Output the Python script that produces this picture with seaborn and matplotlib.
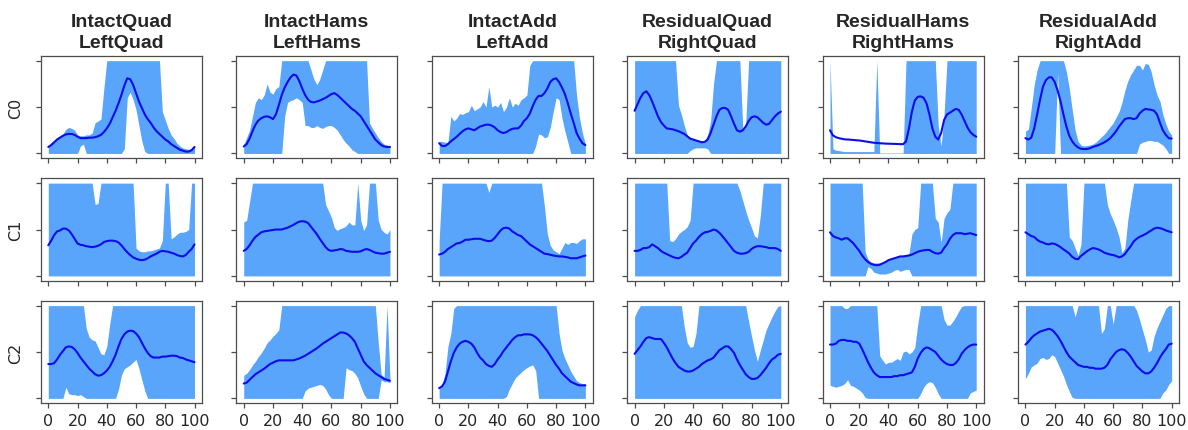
import numpy as np
import matplotlib
matplotlib.use("Agg")
import matplotlib.pyplot as plt
import seaborn as sns

# Normalised activation over the gait cycle (0-100 %), sampled every 2 %.
frames = np.arange(0, 101, 2)

titles = ["IntactQuad\nLeftQuad", "IntactHams\nLeftHams", "IntactAdd\nLeftAdd",
          "ResidualQuad\nRightQuad", "ResidualHams\nRightHams", "ResidualAdd\nRightAdd"]
components = ["C0", "C1", "C2"]
xtick_values = [0, 20, 40, 60, 80, 100]
ytick_values = [0.0, 0.5, 1.0]

# ---------------- C0 ----------------
iq_c0_mid = [0.07, 0.09, 0.12, 0.15, 0.17, 0.19, 0.205, 0.21, 0.21, 0.20,
             0.18, 0.165, 0.165, 0.165, 0.17, 0.17, 0.175, 0.185, 0.20, 0.23,
             0.27, 0.32, 0.39, 0.46, 0.54, 0.63, 0.73, 0.81, 0.80, 0.74,
             0.65, 0.56, 0.49, 0.42, 0.37, 0.33, 0.28, 0.24, 0.21, 0.18,
             0.15, 0.13, 0.10, 0.08, 0.06, 0.04, 0.03, 0.02, 0.02, 0.035, 0.07]
iq_c0_hi = [0.08, 0.12, 0.14, 0.17, 0.19, 0.21, 0.26, 0.28, 0.27, 0.25,
            0.20, 0.19, 0.19, 0.20, 0.20, 0.22, 0.33, 0.35, 0.37, 0.70,
            1, 1, 1, 1, 1, 1, 1, 1, 1, 1,
            1, 1, 1, 1, 1, 1, 1, 1, 1, 0.45,
            0.36, 0.27, 0.20, 0.16, 0.11, 0.08, 0.06, 0.05, 0.045, 0.05, 0.08]
iq_c0_lo = [0, 0, 0, 0, 0, 0, 0, 0, 0, 0,
            0, 0.08, 0.10, 0, 0, 0, 0, 0, 0, 0,
            0, 0, 0, 0, 0, 0, 0.05, 0.60, 0.66, 0.58,
            0.47, 0.30, 0.13, 0.02, 0, 0, 0, 0, 0, 0,
            0, 0, 0, 0, 0, 0, 0, 0, 0, 0, 0]

ih_c0_mid = [0.075, 0.10, 0.16, 0.24, 0.31, 0.355, 0.38, 0.395, 0.40, 0.39,
             0.37, 0.42, 0.52, 0.63, 0.71, 0.77, 0.82, 0.85, 0.84, 0.78,
             0.70, 0.63, 0.58, 0.555, 0.55, 0.56, 0.57, 0.585, 0.60, 0.62,
             0.64, 0.65, 0.63, 0.60, 0.57, 0.54, 0.51, 0.48, 0.46, 0.43,
             0.40, 0.35, 0.30, 0.25, 0.20, 0.15, 0.12, 0.09, 0.075, 0.07, 0.07]
ih_c0_hi = [0.10, 0.17, 0.25, 0.40, 0.55, 0.60, 0.58, 0.63, 0.75, 0.66,
            0.64, 0.70, 0.72, 1, 1, 1, 1, 1, 1, 1,
            1, 1, 1, 0.90, 0.80, 0.74, 0.80, 0.90, 1, 1,
            1, 1, 1, 1, 1, 1, 1, 1, 1, 1,
            1, 1, 1, 0.33, 0.27, 0.22, 0.17, 0.13, 0.10, 0.09, 0.08]
ih_c0_lo = [0, 0, 0, 0, 0, 0, 0, 0, 0, 0,
            0, 0, 0, 0, 0.40, 0.55, 0.57, 0.58, 0.60, 0.58,
            0.55, 0.30, 0.30, 0.28, 0.28, 0.30, 0.28, 0.27, 0.29, 0.30,
            0.30, 0.28, 0.25, 0.20, 0.15, 0.11, 0.08, 0.04, 0.02, 0,
            0, 0, 0, 0, 0, 0, 0, 0, 0, 0, 0]

ia_c0_mid = [0.11, 0.08, 0.08, 0.10, 0.13, 0.155, 0.18, 0.21, 0.24, 0.26,
             0.27, 0.26, 0.25, 0.27, 0.29, 0.30, 0.31, 0.31, 0.30, 0.28,
             0.25, 0.23, 0.22, 0.23, 0.25, 0.265, 0.27, 0.27, 0.30, 0.35,
             0.38, 0.43, 0.51, 0.58, 0.62, 0.62, 0.65, 0.70, 0.77, 0.80,
             0.81, 0.77, 0.71, 0.64, 0.54, 0.43, 0.33, 0.22, 0.16, 0.11, 0.09]
ia_c0_hi = [0.13, 0.13, 0.12, 0.12, 0.40, 0.35, 0.38, 0.43, 0.42, 0.44,
            0.45, 0.52, 0.46, 0.48, 0.50, 0.56, 0.50, 0.72, 0.50, 0.52,
            0.50, 0.55, 0.45, 0.50, 0.60, 0.50, 0.54, 0.52, 0.58, 0.60,
            0.63, 0.95, 1, 1, 1, 1, 1, 1, 1, 1,
            1, 1, 1, 1, 1, 1, 1, 0.62, 0.38, 0.22, 0.10]
ia_c0_lo = [0, 0, 0, 0, 0, 0, 0, 0, 0, 0,
            0, 0, 0, 0, 0, 0, 0, 0, 0, 0,
            0, 0, 0, 0, 0, 0, 0, 0, 0, 0,
            0, 0, 0, 0.08, 0.21, 0.20, 0.17, 0.18, 0.28, 0.45,
            0.60, 0.58, 0.38, 0.24, 0.12, 0, 0, 0, 0, 0, 0]

rq_c0_mid = [0.46, 0.53, 0.60, 0.65, 0.67, 0.63, 0.56, 0.48, 0.40, 0.34,
             0.30, 0.27, 0.265, 0.26, 0.25, 0.24, 0.225, 0.21, 0.185, 0.16,
             0.15, 0.14, 0.13, 0.12, 0.125, 0.15, 0.22, 0.31, 0.40, 0.47,
             0.49, 0.49, 0.47, 0.40, 0.32, 0.25, 0.235, 0.25, 0.29, 0.35,
             0.39, 0.40, 0.39, 0.36, 0.33, 0.31, 0.32, 0.36, 0.40, 0.43, 0.45]
rq_c0_hi = [1, 1, 1, 1, 1, 1, 1, 1, 1, 1,
            1, 1, 1, 1, 1, 0.52, 0.42, 0.30, 0.20, 0.17,
            0.16, 0.15, 0.14, 0.13, 0.14, 0.20, 0.35, 0.75, 1, 1,
            1, 1, 1, 1, 1, 1, 1, 0.27, 0.32, 1,
            1, 1, 1, 1, 1, 1, 1, 1, 1, 1, 1]
rq_c0_lo = [0, 0, 0, 0, 0, 0, 0, 0, 0, 0,
            0, 0, 0, 0, 0, 0, 0, 0, 0, 0.03,
            0.05, 0.06, 0.06, 0.06, 0.06, 0.05, 0, 0, 0, 0,
            0, 0, 0, 0, 0, 0, 0, 0, 0, 0,
            0, 0, 0, 0, 0, 0, 0, 0, 0, 0, 0]

rh_c0_mid = [0.25, 0.195, 0.175, 0.165, 0.158, 0.152, 0.15, 0.148, 0.145, 0.142,
             0.14, 0.135, 0.13, 0.125, 0.12, 0.115, 0.113, 0.11, 0.108, 0.106,
             0.105, 0.104, 0.103, 0.102, 0.10, 0.10, 0.13, 0.27, 0.45, 0.57,
             0.61, 0.615, 0.60, 0.54, 0.42, 0.27, 0.18, 0.15, 0.22, 0.36,
             0.42, 0.44, 0.46, 0.48, 0.47, 0.42, 0.35, 0.28, 0.23, 0.20, 0.18]
rh_c0_hi = [1, 0.05, 0.035, 0.03, 0.025, 0.02, 0.02, 0.02, 0.02, 0.02,
            0.02, 0.02, 0.02, 0.02, 0.02, 0.02, 1, 0.005, 0.005, 0.005,
            0.005, 0.005, 0.005, 0.005, 0.005, 0.005, 1, 1, 1, 1,
            1, 1, 1, 1, 1, 1, 1, 0.30, 0.08, 0.42,
            1, 1, 1, 1, 1, 1, 1, 1, 1, 1, 1]
rh_c0_lo = [0] * 51

ra_c0_mid = [0.165, 0.15, 0.17, 0.27, 0.42, 0.58, 0.72, 0.79, 0.82, 0.82,
             0.77, 0.68, 0.56, 0.42, 0.29, 0.19, 0.13, 0.09, 0.065, 0.05,
             0.047, 0.048, 0.055, 0.07, 0.08, 0.09, 0.105, 0.12, 0.14, 0.165,
             0.20, 0.24, 0.29, 0.33, 0.37, 0.38, 0.38, 0.37, 0.38, 0.43,
             0.46, 0.48, 0.475, 0.47, 0.46, 0.42, 0.33, 0.25, 0.20, 0.165, 0.16]
ra_c0_hi = [0.24, 0.26, 0.49, 0.74, 0.90, 1, 1, 1, 1, 1,
            1, 1, 1, 1, 0.88, 0.70, 0.47, 0.25, 0.13, 0.09,
            0.08, 0.085, 0.09, 0.10, 0.12, 0.15, 0.18, 0.21, 0.25, 0.29,
            0.33, 0.39, 0.45, 0.55, 0.68, 0.78, 0.85, 0.90, 0.95, 0.95,
            0.90, 0.97, 0.96, 0.88, 0.74, 0.63, 0.56, 0.42, 0.32, 0.24, 0.20]
ra_c0_lo = [0, 0, 0, 0, 0, 0, 0, 0, 0, 0,
            0, 0.86, 0, 0, 0, 0, 0, 0, 0, 0,
            0, 0, 0, 0, 0, 0, 0, 0, 0, 0,
            0, 0, 0, 0, 0, 0, 0, 0, 0, 0.10,
            0.12, 0.13, 0.14, 0.14, 0.13, 0.13, 0.11, 0.09, 0.05, 0, 0]

# ---------------- C1 ----------------
iq_c1_mid = [0.33, 0.38, 0.44, 0.48, 0.49, 0.51, 0.51, 0.49, 0.45, 0.40,
             0.35, 0.335, 0.33, 0.32, 0.315, 0.31, 0.315, 0.325, 0.34, 0.365,
             0.375, 0.38, 0.38, 0.375, 0.36, 0.33, 0.29, 0.255, 0.225, 0.20,
             0.185, 0.175, 0.17, 0.175, 0.19, 0.21, 0.225, 0.24, 0.26, 0.27,
             0.265, 0.26, 0.25, 0.24, 0.225, 0.215, 0.21, 0.225, 0.26, 0.29, 0.34]
iq_c1_hi = [1, 1, 1, 1, 1, 1, 1, 1, 1, 1,
            1, 1, 1, 1, 1, 1, 0.77, 0.78, 1, 1,
            1, 1, 1, 1, 1, 1, 1, 1, 1, 1,
            0.30, 0.27, 0.26, 0.26, 0.27, 0.27, 0.28, 0.29, 0.30, 0.38,
            1, 1, 0.40, 0.42, 0.45, 0.47, 0.47, 0.48, 0.50, 1, 1]
iq_c1_lo = [0] * 51

ih_c1_mid = [0.27, 0.29, 0.33, 0.38, 0.42, 0.445, 0.47, 0.48, 0.485, 0.49,
             0.495, 0.50, 0.50, 0.50, 0.51, 0.52, 0.535, 0.55, 0.57, 0.585,
             0.59, 0.585, 0.57, 0.53, 0.49, 0.45, 0.40, 0.355, 0.31, 0.28,
             0.27, 0.275, 0.28, 0.29, 0.285, 0.27, 0.265, 0.26, 0.26, 0.26,
             0.265, 0.28, 0.29, 0.28, 0.265, 0.25, 0.245, 0.24, 0.24, 0.25, 0.26]
ih_c1_hi = [0.58, 0.60, 0.80, 1, 1, 1, 1, 1, 1, 1,
            1, 1, 1, 1, 1, 1, 1, 1, 1, 1,
            1, 1, 1, 1, 1, 1, 1, 1, 0.77, 0.70,
            0.63, 0.52, 0.49, 0.51, 0.52, 0.54, 0.58, 0.55, 0.55, 1,
            0.60, 0.49, 0.55, 1, 1, 1, 0.60, 0.50, 0.47, 0.45, 0.50]
ih_c1_lo = [0] * 51

ia_c1_mid = [0.23, 0.24, 0.26, 0.29, 0.31, 0.33, 0.35, 0.355, 0.37, 0.39,
             0.39, 0.395, 0.40, 0.40, 0.40, 0.39, 0.38, 0.375, 0.38, 0.41,
             0.45, 0.49, 0.515, 0.52, 0.51, 0.48, 0.46, 0.44, 0.43, 0.40,
             0.37, 0.34, 0.32, 0.30, 0.28, 0.26, 0.24, 0.235, 0.228, 0.22,
             0.215, 0.21, 0.21, 0.205, 0.20, 0.19, 0.19, 0.19, 0.20, 0.21, 0.22]
ia_c1_hi = [0.38, 1, 1, 1, 1, 1, 1, 1, 1, 1,
            1, 1, 1, 1, 1, 1, 1, 0.90, 1, 1,
            1, 1, 1, 1, 1, 1, 1, 1, 1, 1,
            1, 1, 1, 1, 1, 1, 0.75, 0.45, 0.33, 0.28,
            0.26, 0.24, 0.30, 0.36, 0.34, 0.36, 0.36, 0.35, 0.38, 0.40, 0.40]
ia_c1_lo = [0] * 51

rq_c1_mid = [0.27, 0.27, 0.28, 0.30, 0.30, 0.31, 0.34, 0.32, 0.30, 0.27,
             0.25, 0.235, 0.22, 0.205, 0.195, 0.19, 0.205, 0.23, 0.25, 0.30,
             0.35, 0.38, 0.42, 0.45, 0.47, 0.475, 0.485, 0.50, 0.49, 0.465,
             0.43, 0.39, 0.35, 0.31, 0.27, 0.25, 0.24, 0.24, 0.245, 0.26,
             0.29, 0.31, 0.32, 0.32, 0.315, 0.31, 0.30, 0.30, 0.30, 0.29, 0.27]
rq_c1_hi = [1, 1, 1, 1, 1, 1, 1, 1, 1, 1,
            1, 1, 0.38, 0.37, 0.40, 0.45, 0.48, 0.50, 0.53, 0.60,
            1, 1, 1, 1, 1, 1, 1, 1, 1, 1,
            1, 1, 1, 1, 1, 1, 0.92, 0.81, 0.70, 0.60,
            0.52, 0.43, 0.41, 0.65, 1, 1, 1, 1, 1, 1, 1]
rq_c1_lo = [0] * 51

rh_c1_mid = [0.47, 0.43, 0.415, 0.405, 0.39, 0.405, 0.405, 0.38, 0.35, 0.31,
             0.27, 0.22, 0.18, 0.15, 0.13, 0.12, 0.115, 0.12, 0.135, 0.15,
             0.17, 0.18, 0.19, 0.20, 0.21, 0.21, 0.215, 0.22, 0.23, 0.245,
             0.26, 0.27, 0.275, 0.28, 0.28, 0.26, 0.245, 0.24, 0.25, 0.30,
             0.34, 0.40, 0.44, 0.46, 0.46, 0.46, 0.45, 0.455, 0.46, 0.45, 0.44]
rh_c1_hi = [1, 1, 1, 1, 1, 1, 1, 1, 1, 1,
            1, 1, 0.26, 0.18, 0.15, 0.14, 0.14, 0.14, 0.15, 0.16,
            0.18, 0.19, 0.20, 0.21, 0.22, 0.22, 0.23, 0.24, 0.45, 0.50,
            0.52, 1, 1, 1, 1, 1, 0.62, 0.58, 0.36, 0.62,
            0.68, 0.72, 1, 1, 1, 1, 1, 1, 1, 1, 1]
rh_c1_lo = [0, 0, 0, 0, 0, 0, 0, 0, 0, 0,
            0, 0, 0, 0.10, 0.08, 0.04, 0.03, 0.02, 0.02, 0.02,
            0.03, 0.04, 0.06, 0.07, 0.05, 0.06, 0.07, 0.07, 0, 0,
            0, 0, 0, 0, 0, 0, 0, 0, 0, 0,
            0, 0, 0, 0, 0, 0, 0, 0, 0, 0, 0]

ra_c1_mid = [0.47, 0.45, 0.43, 0.42, 0.39, 0.37, 0.36, 0.345, 0.34, 0.35,
             0.345, 0.33, 0.31, 0.285, 0.265, 0.24, 0.205, 0.185, 0.18, 0.215,
             0.24, 0.265, 0.285, 0.30, 0.295, 0.285, 0.27, 0.25, 0.24, 0.23,
             0.225, 0.215, 0.20, 0.21, 0.235, 0.28, 0.32, 0.37, 0.40, 0.42,
             0.435, 0.45, 0.47, 0.49, 0.51, 0.52, 0.515, 0.505, 0.49, 0.48, 0.47]
ra_c1_hi = [1, 1, 1, 1, 1, 1, 1, 1, 1, 1,
            1, 1, 1, 1, 1, 0.42, 0.38, 0.30, 0.22, 0.34,
            1, 1, 1, 1, 1, 1, 1, 1, 0.77, 0.67,
            0.60, 0.52, 0.42, 0.25, 0.30, 0.60, 0.81, 1, 1, 1,
            1, 1, 1, 1, 1, 1, 1, 1, 1, 1, 1]
ra_c1_lo = [0] * 51

# ---------------- C2 ----------------
iq_c2_mid = [0.37, 0.37, 0.38, 0.42, 0.47, 0.51, 0.55, 0.56, 0.555, 0.53,
             0.49, 0.44, 0.40, 0.36, 0.32, 0.29, 0.26, 0.245, 0.25, 0.27,
             0.30, 0.34, 0.40, 0.47, 0.56, 0.64, 0.69, 0.72, 0.73, 0.725,
             0.70, 0.66, 0.60, 0.54, 0.49, 0.455, 0.44, 0.44, 0.44, 0.45,
             0.45, 0.455, 0.46, 0.46, 0.455, 0.44, 0.435, 0.42, 0.41, 0.40, 0.39]
iq_c2_hi = [1, 1, 1, 1, 1, 1, 1, 1, 1, 1,
            1, 1, 1, 0.75, 0.66, 0.63, 0.62, 0.55, 0.48, 0.47,
            0.56, 0.80, 1, 1, 1, 1, 1, 1, 1, 1,
            1, 1, 1, 1, 1, 1, 1, 1, 1, 1,
            1, 1, 1, 1, 1, 1, 1, 1, 1, 1, 1]
iq_c2_lo = [0, 0, 0, 0, 0, 0, 0.12, 0.05, 0.04, 0.04,
            0.03, 0.04, 0.02, 0, 0, 0, 0, 0, 0, 0,
            0, 0, 0, 0, 0.10, 0.25, 0.32, 0.34, 0.36, 0.39,
            0.42, 0.32, 0.20, 0.08, 0, 0, 0, 0, 0, 0,
            0, 0, 0, 0, 0, 0, 0, 0, 0, 0, 0]

ih_c2_mid = [0.16, 0.17, 0.20, 0.23, 0.26, 0.28, 0.30, 0.32, 0.345, 0.37,
             0.385, 0.40, 0.41, 0.41, 0.41, 0.41, 0.41, 0.41, 0.42, 0.43,
             0.445, 0.46, 0.48, 0.50, 0.52, 0.54, 0.565, 0.59, 0.61, 0.63,
             0.65, 0.67, 0.69, 0.71, 0.71, 0.70, 0.68, 0.65, 0.61, 0.54,
             0.47, 0.40, 0.36, 0.33, 0.30, 0.27, 0.25, 0.23, 0.21, 0.20, 0.19]
ih_c2_hi = [0.25, 0.27, 0.31, 0.36, 0.40, 0.45, 0.49, 0.54, 0.60, 0.63,
            0.67, 0.70, 0.74, 1, 1, 1, 1, 1, 1, 1,
            1, 1, 1, 1, 1, 1, 1, 1, 1, 1,
            1, 1, 1, 1, 1, 1, 1, 1, 1, 1,
            1, 1, 1, 1, 1, 1, 0.60, 0.26, 0.23, 1, 0.22]
ih_c2_lo = [0, 0, 0, 0, 0, 0, 0, 0, 0, 0,
            0, 0, 0, 0, 0, 0, 0, 0, 0, 0,
            0, 0.08, 0.11, 0.12, 0.13, 0.14, 0.15, 0.14, 0.10, 0.04,
            0, 0, 0, 0, 0, 0.33, 0.31, 0.30, 0.27, 0.22,
            0.13, 0.05, 0, 0, 0, 0, 0, 0.20, 0.18, 0.18, 0.17]

ia_c2_mid = [0.11, 0.13, 0.18, 0.29, 0.40, 0.49, 0.55, 0.59, 0.61, 0.62,
             0.61, 0.59, 0.55, 0.49, 0.44, 0.41, 0.37, 0.35, 0.34, 0.37,
             0.42, 0.46, 0.51, 0.55, 0.59, 0.63, 0.66, 0.68, 0.68, 0.69,
             0.69, 0.69, 0.68, 0.66, 0.63, 0.59, 0.55, 0.51, 0.46, 0.41,
             0.36, 0.32, 0.27, 0.24, 0.21, 0.18, 0.165, 0.15, 0.14, 0.14, 0.14]
ia_c2_hi = [0.12, 0.15, 0.27, 0.56, 0.70, 0.97, 1, 1, 1, 1,
            1, 1, 1, 1, 1, 1, 1, 1, 1, 1,
            1, 1, 1, 1, 1, 1, 1, 1, 1, 1,
            1, 1, 1, 1, 1, 1, 1, 1, 1, 1,
            1, 0.70, 0.52, 0.43, 0.36, 0.29, 0.24, 0.19, 0.17, 0.16, 0.16]
ia_c2_lo = [0, 0, 0, 0, 0, 0, 0, 0, 0, 0,
            0, 0, 0, 0, 0, 0, 0, 0, 0, 0,
            0, 0, 0, 0.02, 0.10, 0.16, 0.22, 0.25, 0.28, 0.31,
            0.33, 0.35, 0.36, 0.30, 0, 0, 0, 0, 0, 0,
            0, 0, 0, 0, 0, 0, 0, 0, 0, 0, 0]

rq_c2_mid = [0.48, 0.52, 0.56, 0.61, 0.65, 0.66, 0.65, 0.64, 0.64, 0.64,
             0.60, 0.55, 0.49, 0.43, 0.38, 0.34, 0.32, 0.30, 0.29, 0.29,
             0.30, 0.32, 0.34, 0.37, 0.39, 0.41, 0.42, 0.44, 0.48, 0.52,
             0.54, 0.56, 0.56, 0.53, 0.49, 0.42, 0.36, 0.31, 0.26, 0.23,
             0.21, 0.21, 0.22, 0.25, 0.29, 0.33, 0.38, 0.42, 0.44, 0.47, 0.48]
rq_c2_hi = [0.88, 0.95, 1, 1, 1, 1, 1, 1, 1, 1,
            1, 1, 1, 1, 1, 1, 1, 0.77, 0.60, 0.55,
            0.56, 0.70, 1, 1, 1, 1, 1, 1, 1, 1,
            1, 1, 1, 1, 1, 1, 1, 1, 1, 0.83,
            0.67, 0.52, 0.40, 0.52, 0.63, 0.74, 0.81, 0.88, 0.94, 0.99, 1]
rq_c2_lo = [0] * 51

rh_c2_mid = [0.58, 0.58, 0.59, 0.62, 0.63, 0.63, 0.62, 0.62, 0.61, 0.61,
             0.59, 0.53, 0.46, 0.39, 0.33, 0.28, 0.25, 0.23, 0.23, 0.23,
             0.23, 0.23, 0.24, 0.24, 0.25, 0.25, 0.26, 0.27, 0.28, 0.34,
             0.43, 0.49, 0.53, 0.55, 0.54, 0.52, 0.50, 0.46, 0.42, 0.39,
             0.37, 0.36, 0.36, 0.38, 0.42, 0.48, 0.52, 0.55, 0.57, 0.58, 0.58]
rh_c2_hi = [1, 1, 1, 1, 1, 0.97, 0.97, 1, 1, 1,
            1, 1, 1, 1, 1, 1, 1, 0.46, 0.41, 0.37,
            0.39, 0.39, 0.41, 0.43, 0.41, 0.50, 0.51, 0.48, 0.50, 0.55,
            0.80, 1, 1, 1, 1, 1, 1, 1, 1, 0.85,
            0.79, 0.79, 0.83, 0.88, 0.94, 0.99, 1, 1, 1, 1, 1]
rh_c2_lo = [0.14, 0.13, 0.12, 0.13, 0.14, 0.16, 0.20, 0.14, 0.13, 0.11,
            0.09, 0.06, 0.01, 0, 0, 0, 0, 0, 0, 0,
            0, 0, 0, 0, 0, 0, 0, 0, 0, 0,
            0, 0.05, 0.12, 0.16, 0.18, 0.17, 0.12, 0.05, 0, 0,
            0, 0, 0, 0, 0, 0, 0, 0, 0.06, 0.075, 0.09]

ra_c2_mid = [0.58, 0.61, 0.65, 0.68, 0.70, 0.72, 0.73, 0.74, 0.75, 0.74,
             0.71, 0.67, 0.62, 0.56, 0.50, 0.45, 0.42, 0.39, 0.36, 0.35,
             0.34, 0.34, 0.33, 0.33, 0.32, 0.32, 0.32, 0.33, 0.36, 0.42,
             0.46, 0.50, 0.52, 0.53, 0.52, 0.49, 0.45, 0.40, 0.35, 0.32,
             0.29, 0.27, 0.27, 0.29, 0.33, 0.38, 0.44, 0.49, 0.53, 0.58, 0.59]
ra_c2_hi = [1, 1, 1, 1, 1, 1, 1, 1, 1, 1,
            1, 1, 1, 1, 1, 1, 1, 0.88, 1, 1,
            1, 1, 1, 1, 1, 1, 0.70, 0.75, 1, 1,
            0.80, 1, 1, 1, 1, 1, 1, 1, 0.95, 0.85,
            0.74, 0.63, 0.50, 0.52, 0.67, 0.76, 0.83, 0.90, 0.97, 1, 1]
ra_c2_lo = [0.21, 0.27, 0.34, 0.36, 0.38, 0.43, 0.44, 0.42, 0.43, 0.47,
            0.45, 0.38, 0.31, 0.24, 0.15, 0.075, 0.01, 0, 0, 0,
            0, 0, 0, 0, 0, 0, 0, 0, 0, 0,
            0, 0, 0, 0, 0, 0, 0, 0, 0, 0,
            0, 0, 0, 0, 0, 0, 0, 0.06, 0.09, 0.15, 0.19]

grid = [
    [(iq_c0_lo, iq_c0_mid, iq_c0_hi), (ih_c0_lo, ih_c0_mid, ih_c0_hi),
     (ia_c0_lo, ia_c0_mid, ia_c0_hi), (rq_c0_lo, rq_c0_mid, rq_c0_hi),
     (rh_c0_lo, rh_c0_mid, rh_c0_hi), (ra_c0_lo, ra_c0_mid, ra_c0_hi)],
    [(iq_c1_lo, iq_c1_mid, iq_c1_hi), (ih_c1_lo, ih_c1_mid, ih_c1_hi),
     (ia_c1_lo, ia_c1_mid, ia_c1_hi), (rq_c1_lo, rq_c1_mid, rq_c1_hi),
     (rh_c1_lo, rh_c1_mid, rh_c1_hi), (ra_c1_lo, ra_c1_mid, ra_c1_hi)],
    [(iq_c2_lo, iq_c2_mid, iq_c2_hi), (ih_c2_lo, ih_c2_mid, ih_c2_hi),
     (ia_c2_lo, ia_c2_mid, ia_c2_hi), (rq_c2_lo, rq_c2_mid, rq_c2_hi),
     (rh_c2_lo, rh_c2_mid, rh_c2_hi), (ra_c2_lo, ra_c2_mid, ra_c2_hi)],
]

BAND = "#58a5fb"
LINE = "#0c0cec"

sns.set_style("ticks", {"axes.edgecolor": "0.3", "xtick.color": "0.3", "ytick.color": "0.3"})
plt.rcParams["font.family"] = ["DejaVu Sans"]
plt.rcParams["axes.linewidth"] = 0.9
plt.rcParams["xtick.major.width"] = 0.9
plt.rcParams["ytick.major.width"] = 0.9
plt.rcParams["xtick.major.size"] = 3.5
plt.rcParams["ytick.major.size"] = 3.5

fig, axes = plt.subplots(3, 6, figsize=(11.88, 4.31), dpi=100, sharex=True, sharey=True)
fig.subplots_adjust(left=0.0345, right=0.9924, top=0.8677, bottom=0.0626,
                    wspace=0.215, hspace=0.2)

for r, comp in enumerate(components):
    for c, title in enumerate(titles):
        ax = axes[r, c]
        lo, mid, hi = grid[r][c]
        ax.fill_between(frames, lo, hi, color=BAND, linewidth=0)
        sns.lineplot(x=frames, y=mid, ax=ax, color=LINE, linewidth=1.5)
        ax.set_xlim(-5, 105)
        ax.set_ylim(-0.05, 1.05)
        ax.set_yticks(ytick_values)
        ax.set_yticklabels([])
        ax.set_xticks(xtick_values)
        ax.tick_params(axis="x", labelsize=11.5, labelcolor="0.15")
        if r == 0:
            ax.set_title(title, fontsize=14, fontweight="bold", linespacing=1.3,
                         family=["Liberation Sans", "DejaVu Sans"], pad=6.5)
        if c == 0:
            ax.set_ylabel(comp, fontsize=11.5, labelpad=6, color="0.15")
        else:
            ax.set_ylabel("")

fig.savefig("out.png", dpi=100)
